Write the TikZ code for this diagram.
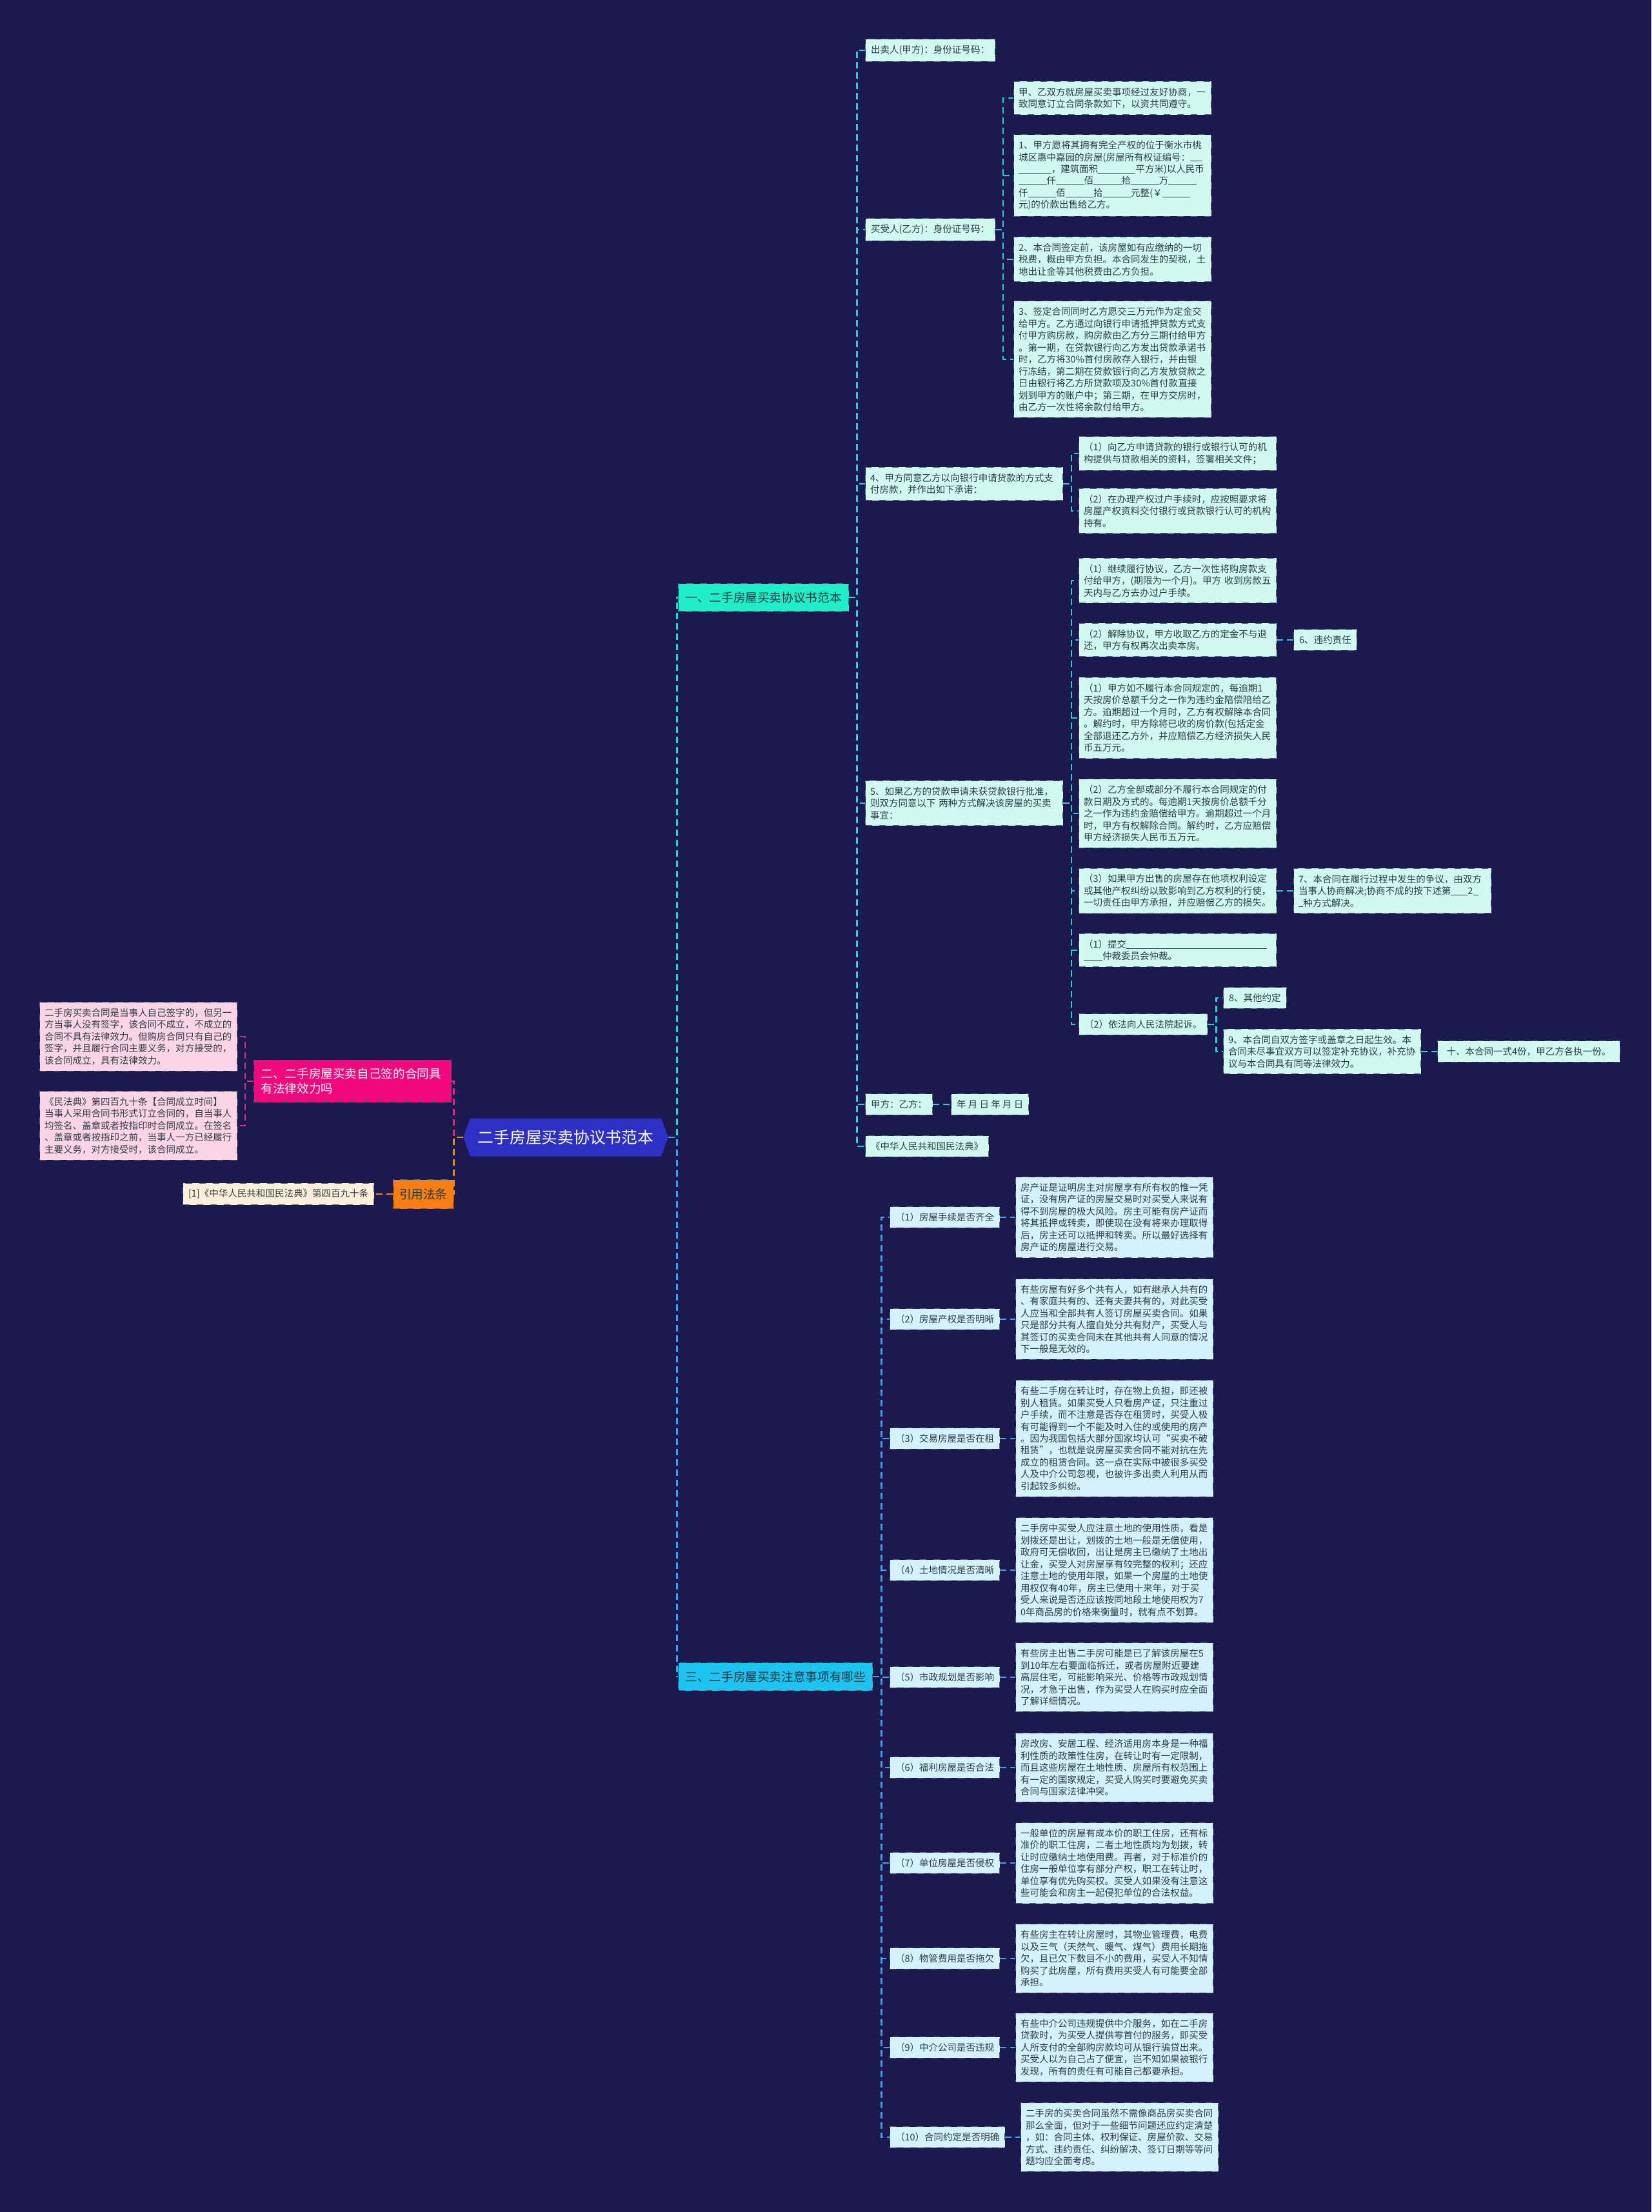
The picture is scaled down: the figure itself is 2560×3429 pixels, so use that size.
\documentclass[tikz,border=0pt]{standalone}
\usepackage{fontspec}
\setmainfont{Noto Sans CJK SC}
\usepackage{xcolor}
\usepackage{tikz}
\usetikzlibrary{shapes.symbols}

\definecolor{night}{HTML}{1B1A50}
\definecolor{rootblue}{HTML}{2D30C6}
\definecolor{tealfill}{HTML}{20EEC8}
\definecolor{cyanfill}{HTML}{1EC4F0}
\definecolor{magfill}{HTML}{F0087C}
\definecolor{orangefill}{HTML}{FA7D10}
\definecolor{mintfill}{HTML}{D0FAF0}
\definecolor{skyfill}{HTML}{D3F2FB}
\definecolor{rosefill}{HTML}{FCD5E5}
\definecolor{creamfill}{HTML}{FDEFD9}
\definecolor{ink}{HTML}{2E3C45}
\definecolor{darkink}{HTML}{1F3A44}
\definecolor{rimgray}{HTML}{5A646A}
\definecolor{teallink}{HTML}{32CCD8}
\definecolor{bluelink}{HTML}{3BA4E6}
\definecolor{pinklink}{HTML}{D0307F}
\definecolor{orangelink}{HTML}{E88A2A}

\newcommand\cnsmall{\fontsize{4.13}{5.26}\selectfont}
\newcommand\cnmid{\fontsize{5.3}{6.35}\selectfont}
\newcommand\cnbig{\fontsize{7.05}{8.5}\selectfont}
\newcommand\fillin[1]{\rule[-0.35pt]{#1}{0.3pt}}

\begin{document}
\begin{tikzpicture}[
  x=0.1mm, y=-0.1mm,
  tag/.style={draw=rimgray, dashed, line width=0.3pt, text=ink, font=\cnsmall, inner xsep=0.85mm, inner ysep=0.95mm, anchor=west},
  card/.style={tag, align=left, text width=29.1mm, inner xsep=0.75mm},
  mint/.style={fill=mintfill},
  sky/.style={fill=skyfill},
  rose/.style={fill=rosefill},
  cream/.style={fill=creamfill},
  topic/.style={draw=rimgray, dashed, line width=0.3pt, font=\cnmid, inner xsep=1.1mm, minimum height=4.3mm, anchor=west},
  tealline/.style={draw=teallink, dash pattern=on 1mm off 0.6mm, line width=0.75pt},
  blueline/.style={draw=bluelink, dash pattern=on 1mm off 0.6mm, line width=0.75pt},
  pinkline/.style={draw=pinklink, dash pattern=on 1mm off 0.6mm, line width=0.75pt},
  orangeline/.style={draw=orangelink, dash pattern=on 1mm off 0.6mm, line width=0.75pt}
]
\fill[night] (0,0) rectangle (2560,3429);
\useasboundingbox (0,0) rectangle (2560,3429);

% centre and main branches
\node[signal, signal to=east and west, signal pointer angle=140, fill=rootblue, text=white, font=\cnbig, minimum width=27.6mm, minimum height=5.9mm] (root) at (877,1763) {二手房屋买卖协议书范本};
\node[topic, fill=tealfill, text=darkink] (sec1) at (1051,926) {一、二手房屋买卖协议书范本};
\node[topic, fill=cyanfill, text=darkink] (sec3) at (1051,2599) {三、二手房屋买卖注意事项有哪些};
\node[topic, fill=magfill, text=white, align=left, text width=28.4mm, inner ysep=1.3mm] (sec2) at (393,1676) {二、二手房屋买卖自己签的合同具\\有法律效力吗};
\node[topic, fill=orangefill, text=darkink, inner xsep=0.95mm, minimum height=4.5mm] (citeHead) at (609,1851) {引用法条};

% section two
\node[card, rose] (ruleA) at (61,1607) {二手房买卖合同是当事人自己签字的，但另一\\方当事人没有签字，该合同不成立，不成立的\\合同不具有法律效力。但购房合同只有自己的\\签字，并且履行合同主要义务，对方接受的，\\该合同成立，具有法律效力。};
\node[card, rose] (ruleB) at (61,1745) {《民法典》第四百九十条【合同成立时间】\\当事人采用合同书形式订立合同的，自当事人\\均签名、盖章或者按指印时合同成立。在签名\\、盖章或者按指印之前，当事人一方已经履行\\主要义务，对方接受时，该合同成立。};
\node[tag, cream] (citeLeaf) at (283,1851) {[1]《中华人民共和国民法典》第四百九十条};

% section one
\node[tag, mint] (seller) at (1341,78) {出卖人(甲方)：身份证号码：};
\node[tag, mint] (buyer) at (1341,356) {买受人(乙方)：身份证号码：};
\node[card, mint] (agree) at (1571,152) {甲、乙双方就房屋买卖事项经过友好协商，一\\致同意订立合同条款如下，以资共同遵守。};
\node[card, mint] (itemOne) at (1571,272) {1、甲方愿将其拥有完全产权的位于衡水市桃\\城区惠中嘉园的房屋(房屋所有权证编号：\fillin{1.3em}\\\fillin{3.5em}，建筑面积\fillin{4em}平方米)以人民币\\\fillin{3em}仟\fillin{3em}佰\fillin{3em}拾\fillin{3em}万\fillin{3em}\\仟\fillin{3em}佰\fillin{3em}拾\fillin{3em}元整(￥\fillin{3em}\\元)的价款出售给乙方。};
\node[card, mint] (itemTwo) at (1571,402) {2、本合同签定前，该房屋如有应缴纳的一切\\税费，概由甲方负担。本合同发生的契税，土\\地出让金等其他税费由乙方负担。};
\node[card, mint] (itemThree) at (1571,557) {3、签定合同同时乙方愿交三万元作为定金交\\给甲方。乙方通过向银行申请抵押贷款方式支\\付甲方购房款，购房款由乙方分三期付给甲方\\。第一期，在贷款银行向乙方发出贷款承诺书\\时，乙方将30\%首付房款存入银行，并由银\\行冻结，第二期在贷款银行向乙方发放贷款之\\日由银行将乙方所贷款项及30\%首付款直接\\划到甲方的账户中；第三期，在甲方交房时，\\由乙方一次性将余款付给甲方。};
\node[card, mint] (itemFour) at (1341,750) {4、甲方同意乙方以向银行申请贷款的方式支\\付房款，并作出如下承诺：};
\node[card, mint] (loanA) at (1672,703) {（1）向乙方申请贷款的银行或银行认可的机\\构提供与贷款相关的资料，签署相关文件；};
\node[card, mint] (loanB) at (1672,792) {（2）在办理产权过户手续时，应按照要求将\\房屋产权资料交付银行或贷款银行认可的机构\\持有。};
\node[card, mint] (itemFive) at (1341,1245) {5、如果乙方的贷款申请未获贷款银行批准，\\则双方同意以下~两种方式解决该房屋的买卖\\事宜：};
\node[card, mint] (optA) at (1672,900) {（1）继续履行协议，乙方一次性将购房款支\\付给甲方，(期限为一个月)。甲方~收到房款五\\天内与乙方去办过户手续。};
\node[card, mint] (optB) at (1672,992) {（2）解除协议，甲方收取乙方的定金不与退\\还，甲方有权再次出卖本房。};
\node[tag, mint] (breach) at (2005,992) {6、违约责任};
\node[card, mint] (penA) at (1672,1113) {（1）甲方如不履行本合同规定的，每逾期1\\天按房价总额千分之一作为违约金陪偿陪给乙\\方。逾期超过一个月时，乙方有权解除本合同\\。解约时，甲方除将已收的房价款(包括定金\\全部退还乙方外，并应赔偿乙方经济损失人民\\币五万元。};
\node[card, mint] (penB) at (1672,1261) {（2）乙方全部或部分不履行本合同规定的付\\款日期及方式的。每逾期1天按房价总额千分\\之一作为违约金赔偿给甲方。逾期超过一个月\\时，甲方有权解除合同。解约时，乙方应赔偿\\甲方经济损失人民币五万元。};
\node[card, mint] (penC) at (1672,1381) {（3）如果甲方出售的房屋存在他项权利设定\\或其他产权纠纷以致影响到乙方权利的行使，\\一切责任由甲方承担，并应赔偿乙方的损失。};
\node[card, mint] (dispute) at (2005,1381) {7、本合同在履行过程中发生的争议，由双方\\当事人协商解决;协商不成的按下述第\fillin{1.8em}2\fillin{0.6em}\\\fillin{0.5em}种方式解决。};
\node[card, mint] (arbit) at (1672,1473) {（1）提交\fillin{15em}\\\fillin{2em}仲裁委员会仲裁。};
\node[tag, mint] (court) at (1672,1588) {（2）依法向人民法院起诉。};
\node[tag, mint] (other) at (1896,1547) {8、其他约定};
\node[card, mint] (effect) at (1896,1630) {9、本合同自双方签字或盖章之日起生效。本\\合同未尽事宜双方可以签定补充协议，补充协\\议与本合同具有同等法律效力。};
\node[tag, mint, inner xsep=1.4mm] (copies) at (2228,1630) {十、本合同一式4份，甲乙方各执一份。};
\node[tag, mint] (signers) at (1341,1712) {甲方：乙方：};
\node[tag, mint] (dates) at (1474,1712) {年 月 日 年 月 日};
\node[tag, mint] (code) at (1341,1777) {《中华人民共和国民法典》};

% section three
\node[tag, sky] (askA) at (1379,1887) {（1）房屋手续是否齐全};
\node[tag, sky] (askB) at (1379,2045) {（2）房屋产权是否明晰};
\node[tag, sky] (askC) at (1379,2230) {（3）交易房屋是否在租};
\node[tag, sky] (askD) at (1379,2434) {（4）土地情况是否清晰};
\node[tag, sky] (askE) at (1379,2600) {（5）市政规划是否影响};
\node[tag, sky] (askF) at (1379,2740) {（6）福利房屋是否合法};
\node[tag, sky] (askG) at (1379,2888) {（7）单位房屋是否侵权};
\node[tag, sky] (askH) at (1379,3036) {（8）物管费用是否拖欠};
\node[tag, sky] (askI) at (1379,3174) {（9）中介公司是否违规};
\node[tag, sky] (askJ) at (1379,3313) {（10）合同约定是否明确};
\node[card, sky] (ansA) at (1574,1887) {房产证是证明房主对房屋享有所有权的惟一凭\\证，没有房产证的房屋交易时对买受人来说有\\得不到房屋的极大风险。房主可能有房产证而\\将其抵押或转卖，即使现在没有将来办理取得\\后，房主还可以抵押和转卖。所以最好选择有\\房产证的房屋进行交易。};
\node[card, sky] (ansB) at (1574,2045) {有些房屋有好多个共有人，如有继承人共有的\\、有家庭共有的、还有夫妻共有的，对此买受\\人应当和全部共有人签订房屋买卖合同。如果\\只是部分共有人擅自处分共有财产，买受人与\\其签订的买卖合同未在其他共有人同意的情况\\下一般是无效的。};
\node[card, sky] (ansC) at (1574,2230) {有些二手房在转让时，存在物上负担，即还被\\别人租赁。如果买受人只看房产证，只注重过\\户手续，而不注意是否存在租赁时，买受人极\\有可能得到一个不能及时入住的或使用的房产\\。因为我国包括大部分国家均认可“买卖不破\\租赁”，也就是说房屋买卖合同不能对抗在先\\成立的租赁合同。这一点在实际中被很多买受\\人及中介公司忽视，也被许多出卖人利用从而\\引起较多纠纷。};
\node[card, sky] (ansD) at (1574,2434) {二手房中买受人应注意土地的使用性质，看是\\划拨还是出让，划拨的土地一般是无偿使用，\\政府可无偿收回，出让是房主已缴纳了土地出\\让金，买受人对房屋享有较完整的权利；还应\\注意土地的使用年限，如果一个房屋的土地使\\用权仅有40年，房主已使用十来年，对于买\\受人来说是否还应该按同地段土地使用权为7\\0年商品房的价格来衡量时，就有点不划算。};
\node[card, sky] (ansE) at (1574,2600) {有些房主出售二手房可能是已了解该房屋在5\\到10年左右要面临拆迁，或者房屋附近要建\\高层住宅，可能影响采光、价格等市政规划情\\况，才急于出售，作为买受人在购买时应全面\\了解详细情况。};
\node[card, sky] (ansF) at (1574,2740) {房改房、安居工程、经济适用房本身是一种福\\利性质的政策性住房，在转让时有一定限制，\\而且这些房屋在土地性质、房屋所有权范围上\\有一定的国家规定，买受人购买时要避免买卖\\合同与国家法律冲突。};
\node[card, sky] (ansG) at (1574,2888) {一般单位的房屋有成本价的职工住房，还有标\\准价的职工住房，二者土地性质均为划拨，转\\让时应缴纳土地使用费。再者，对于标准价的\\住房一般单位享有部分产权，职工在转让时，\\单位享有优先购买权。买受人如果没有注意这\\些可能会和房主一起侵犯单位的合法权益。};
\node[card, sky] (ansH) at (1574,3036) {有些房主在转让房屋时，其物业管理费，电费\\以及三气（天然气、暖气、煤气）费用长期拖\\欠，且已欠下数目不小的费用，买受人不知情\\购买了此房屋，所有费用买受人有可能要全部\\承担。};
\node[card, sky] (ansI) at (1574,3174) {有些中介公司违规提供中介服务，如在二手房\\贷款时，为买受人提供零首付的服务，即买受\\人所支付的全部购房款均可从银行骗贷出来。\\买受人以为自己占了便宜，岂不知如果被银行\\发现，所有的责任有可能自己都要承担。};
\node[card, sky] (ansJ) at (1582,3313) {二手房的买卖合同虽然不需像商品房买卖合同\\那么全面，但对于一些细节问题还应约定清楚\\，如：合同主体、权利保证、房屋价款、交易\\方式、违约责任、纠纷解决、签订日期等等问\\题均应全面考虑。};

% links from the centre
\draw[tealline] (root.east) -- ++(13,0) |- (sec1.west);
\draw[blueline] (root.east) -- ++(13,0) |- (sec3.west);
\draw[pinkline] (root.west) -- ++(-14,0) |- (sec2.east);
\draw[orangeline] (root.west) -- ++(-14,0) |- (citeHead.east);
\draw[pinkline] (sec2.west) -- ++(-13,0) |- (ruleA.east);
\draw[pinkline] (sec2.west) -- ++(-13,0) |- (ruleB.east);
\draw[orangeline] (citeHead.west) -- (citeLeaf.east);

% links of section one
\draw[tealline] (sec1.east) -- ++(12,0) |- (seller.west);
\draw[tealline] (sec1.east) -- ++(12,0) |- (buyer.west);
\draw[tealline] (sec1.east) -- ++(12,0) |- (itemFour.west);
\draw[tealline] (sec1.east) -- ++(12,0) |- (itemFive.west);
\draw[tealline] (sec1.east) -- ++(12,0) |- (signers.west);
\draw[tealline] (sec1.east) -- ++(12,0) |- (code.west);
\draw[tealline] (buyer.east) -- ++(12,0) |- (agree.west);
\draw[tealline] (buyer.east) -- ++(12,0) |- (itemOne.west);
\draw[tealline] (buyer.east) -- ++(12,0) |- (itemTwo.west);
\draw[tealline] (buyer.east) -- ++(12,0) |- (itemThree.west);
\draw[tealline] (itemFour.east) -- ++(13,0) |- (loanA.west);
\draw[tealline] (itemFour.east) -- ++(13,0) |- (loanB.west);
\draw[tealline] (itemFive.east) -- ++(13,0) |- (optA.west);
\draw[tealline] (itemFive.east) -- ++(13,0) |- (optB.west);
\draw[tealline] (itemFive.east) -- ++(13,0) |- (penA.west);
\draw[tealline] (itemFive.east) -- ++(13,0) |- (penB.west);
\draw[tealline] (itemFive.east) -- ++(13,0) |- (penC.west);
\draw[tealline] (itemFive.east) -- ++(13,0) |- (arbit.west);
\draw[tealline] (itemFive.east) -- ++(13,0) |- (court.west);
\draw[tealline] (optB.east) -- (breach.west);
\draw[tealline] (penC.east) -- (dispute.west);
\draw[tealline] (court.east) -- ++(13,0) |- (other.west);
\draw[tealline] (court.east) -- ++(13,0) |- (effect.west);
\draw[tealline] (effect.east) -- (copies.west);
\draw[tealline] (signers.east) -- (dates.west);

% links of section three
\draw[blueline] (sec3.east) -- ++(13,0) |- (askA.west);
\draw[blueline] (sec3.east) -- ++(13,0) |- (askB.west);
\draw[blueline] (sec3.east) -- ++(13,0) |- (askC.west);
\draw[blueline] (sec3.east) -- ++(13,0) |- (askD.west);
\draw[blueline] (sec3.east) -- ++(13,0) |- (askE.west);
\draw[blueline] (sec3.east) -- ++(13,0) |- (askF.west);
\draw[blueline] (sec3.east) -- ++(13,0) |- (askG.west);
\draw[blueline] (sec3.east) -- ++(13,0) |- (askH.west);
\draw[blueline] (sec3.east) -- ++(13,0) |- (askI.west);
\draw[blueline] (sec3.east) -- ++(13,0) |- (askJ.west);
\draw[blueline] (askA.east) -- (ansA.west);
\draw[blueline] (askB.east) -- (ansB.west);
\draw[blueline] (askC.east) -- (ansC.west);
\draw[blueline] (askD.east) -- (ansD.west);
\draw[blueline] (askE.east) -- (ansE.west);
\draw[blueline] (askF.east) -- (ansF.west);
\draw[blueline] (askG.east) -- (ansG.west);
\draw[blueline] (askH.east) -- (ansH.west);
\draw[blueline] (askI.east) -- (ansI.west);
\draw[blueline] (askJ.east) -- (ansJ.west);
\end{tikzpicture}
\end{document}
